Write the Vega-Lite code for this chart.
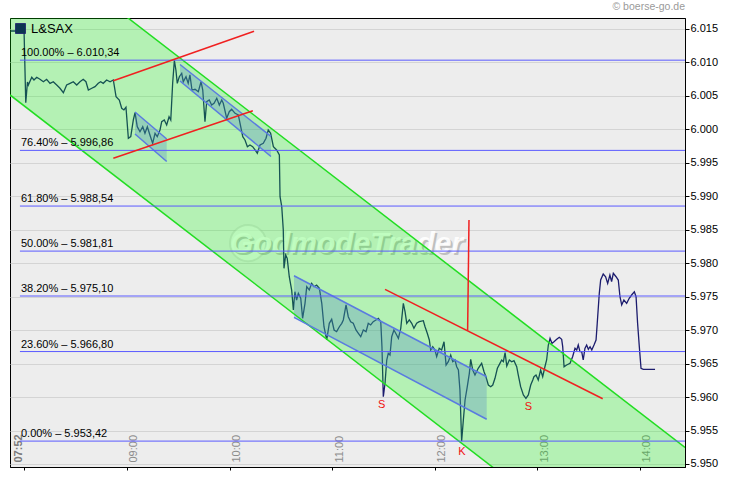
{
  "$schema": "https://vega.github.io/schema/vega-lite/v6.json",
  "width": 675,
  "height": 449,
  "autosize": {"type": "none"},
  "padding": {"left": 10, "top": 18, "right": 45, "bottom": 14},
  "background": "#FFFFFF",
  "title": {"text": "© boerse-go.de", "anchor": "end", "frame": "group", "fontSize": 10.5, "fontWeight": "normal", "color": "#9A9A9A", "offset": 6, "font": "Liberation Sans"},
  "config": {
    "locale": {"number": {"decimal": ",", "thousands": ".", "grouping": [3], "currency": ["", " €"]}},
    "view": {"fill": "#EDEDED", "stroke": "#000000", "strokeWidth": 1},
    "font": "Liberation Sans"
  },
  "datasets": {
    "price": [
      {"m":472.0,"v":6014.70},{"m":479.8,"v":6014.70},{"m":480.8,"v":6003.99},{"m":481.8,"v":6007.08},{"m":482.3,"v":6006.63},{"m":484.3,"v":6007.78},{"m":485.6,"v":6007.38},{"m":487.2,"v":6007.78},{"m":489.1,"v":6007.48},{"m":491.1,"v":6007.12},{"m":493.0,"v":6007.48},{"m":495.0,"v":6006.88},{"m":496.9,"v":6007.12},{"m":498.9,"v":6006.63},{"m":500.8,"v":6006.14},{"m":502.8,"v":6005.48},{"m":504.7,"v":6006.63},{"m":506.7,"v":6006.88},{"m":508.6,"v":6007.12},{"m":510.6,"v":6006.63},{"m":512.5,"v":6007.12},{"m":514.4,"v":6007.48},{"m":516.0,"v":6007.12},{"m":517.4,"v":6005.88},{"m":519.4,"v":6006.14},{"m":521.3,"v":6006.38},{"m":523.2,"v":6006.88},{"m":524.6,"v":6007.12},{"m":526.1,"v":6006.88},{"m":528.1,"v":6007.38},{"m":530.1,"v":6007.12},{"m":532.0,"v":6007.38},{"m":533.6,"v":6004.88},{"m":535.5,"v":6004.39},{"m":536.9,"v":6003.15},{"m":538.2,"v":6002.90},{"m":539.4,"v":6003.30},{"m":540.8,"v":5998.67},{"m":542.2,"v":5998.91},{"m":543.7,"v":6001.40},{"m":544.7,"v":6002.49},{"m":546.0,"v":6000.40},{"m":547.6,"v":5999.65},{"m":549.2,"v":6000.40},{"m":550.5,"v":5999.41},{"m":551.9,"v":6000.40},{"m":553.4,"v":5999.16},{"m":555.0,"v":5997.92},{"m":556.4,"v":5999.41},{"m":557.7,"v":5998.91},{"m":559.3,"v":5999.91},{"m":560.3,"v":6001.15},{"m":561.8,"v":6001.40},{"m":563.2,"v":6000.65},{"m":564.6,"v":6001.89},{"m":565.6,"v":6001.40},{"m":566.7,"v":6006.88},{"m":567.7,"v":6010.30},{"m":568.6,"v":6008.87},{"m":569.4,"v":6006.88},{"m":570.6,"v":6007.87},{"m":572.0,"v":6008.38},{"m":572.9,"v":6007.12},{"m":574.5,"v":6007.87},{"m":575.8,"v":6006.88},{"m":576.8,"v":6008.13},{"m":578.0,"v":6005.88},{"m":579.8,"v":6005.99},{"m":581.7,"v":6005.63},{"m":583.3,"v":6007.12},{"m":584.3,"v":6005.88},{"m":585.6,"v":6001.15},{"m":586.6,"v":6004.14},{"m":588.1,"v":6004.39},{"m":589.5,"v":6003.64},{"m":590.9,"v":6003.90},{"m":592.5,"v":6004.64},{"m":594.0,"v":6003.64},{"m":595.4,"v":6004.39},{"m":596.3,"v":6003.90},{"m":598.3,"v":6001.66},{"m":599.8,"v":6002.64},{"m":601.2,"v":6003.00},{"m":603.2,"v":6002.40},{"m":605.1,"v":6002.15},{"m":606.5,"v":6000.40},{"m":607.7,"v":5998.91},{"m":609.0,"v":5998.41},{"m":610.4,"v":5997.41},{"m":611.9,"v":5997.66},{"m":613.5,"v":5997.41},{"m":614.9,"v":5996.92},{"m":616.2,"v":5996.42},{"m":617.8,"v":5997.66},{"m":619.7,"v":5997.92},{"m":621.3,"v":5998.67},{"m":622.6,"v":5999.91},{"m":624.0,"v":5999.41},{"m":625.6,"v":5997.41},{"m":627.5,"v":5996.92},{"m":629.1,"v":5996.17},{"m":629.5,"v":5989.94},{"m":630.5,"v":5988.45},{"m":631.4,"v":5984.96},{"m":631.8,"v":5979.24},{"m":632.8,"v":5981.23},{"m":633.7,"v":5980.73},{"m":634.9,"v":5977.98},{"m":636.3,"v":5975.99},{"m":637.3,"v":5973.01},{"m":638.2,"v":5975.74},{"m":639.2,"v":5974.50},{"m":640.2,"v":5975.50},{"m":641.6,"v":5974.76},{"m":642.7,"v":5971.77},{"m":644.1,"v":5974.01},{"m":645.1,"v":5976.49},{"m":646.6,"v":5976.00},{"m":648.0,"v":5977.00},{"m":649.4,"v":5976.49},{"m":650.9,"v":5976.74},{"m":652.5,"v":5976.25},{"m":653.9,"v":5974.01},{"m":655.2,"v":5970.51},{"m":656.8,"v":5968.53},{"m":658.3,"v":5971.02},{"m":659.7,"v":5971.62},{"m":661.1,"v":5970.02},{"m":662.6,"v":5969.77},{"m":664.2,"v":5970.51},{"m":665.6,"v":5971.02},{"m":666.5,"v":5971.52},{"m":668.1,"v":5973.76},{"m":669.4,"v":5972.01},{"m":670.8,"v":5971.26},{"m":672.3,"v":5971.02},{"m":673.9,"v":5970.02},{"m":675.3,"v":5969.53},{"m":676.7,"v":5969.02},{"m":678.2,"v":5970.02},{"m":679.8,"v":5969.77},{"m":681.1,"v":5971.02},{"m":682.5,"v":5970.77},{"m":684.0,"v":5971.26},{"m":685.6,"v":5971.52},{"m":687.0,"v":5971.77},{"m":688.4,"v":5971.26},{"m":689.1,"v":5967.53},{"m":689.9,"v":5960.05},{"m":690.9,"v":5962.06},{"m":691.9,"v":5965.54},{"m":692.8,"v":5966.54},{"m":693.8,"v":5966.29},{"m":694.8,"v":5969.02},{"m":696.1,"v":5970.02},{"m":697.7,"v":5969.27},{"m":698.7,"v":5968.78},{"m":700.1,"v":5970.27},{"m":701.6,"v":5974.01},{"m":702.6,"v":5972.76},{"m":703.6,"v":5971.02},{"m":705.1,"v":5971.52},{"m":706.5,"v":5971.02},{"m":707.8,"v":5970.27},{"m":709.4,"v":5971.02},{"m":710.9,"v":5971.26},{"m":713.3,"v":5971.41},{"m":714.3,"v":5970.51},{"m":715.6,"v":5969.53},{"m":716.8,"v":5968.53},{"m":717.6,"v":5967.03},{"m":718.8,"v":5967.53},{"m":720.1,"v":5967.03},{"m":721.1,"v":5966.03},{"m":722.6,"v":5967.28},{"m":724.0,"v":5967.03},{"m":725.4,"v":5968.27},{"m":726.6,"v":5964.79},{"m":727.9,"v":5965.28},{"m":729.3,"v":5966.28},{"m":730.5,"v":5965.28},{"m":731.8,"v":5965.54},{"m":732.8,"v":5964.53},{"m":733.8,"v":5964.04},{"m":734.7,"v":5961.05},{"m":735.7,"v":5953.42},{"m":736.7,"v":5956.57},{"m":737.7,"v":5959.56},{"m":739.0,"v":5961.55},{"m":740.2,"v":5963.55},{"m":741.0,"v":5965.64},{"m":742.2,"v":5964.04},{"m":743.5,"v":5963.30},{"m":745.4,"v":5964.30},{"m":747.4,"v":5965.04},{"m":748.8,"v":5963.79},{"m":749.9,"v":5963.04},{"m":751.3,"v":5961.80},{"m":752.7,"v":5961.55},{"m":753.9,"v":5961.80},{"m":755.2,"v":5962.80},{"m":756.6,"v":5964.30},{"m":758.1,"v":5965.04},{"m":759.1,"v":5965.54},{"m":760.1,"v":5965.28},{"m":761.1,"v":5966.63},{"m":762.1,"v":5964.64},{"m":763.6,"v":5965.54},{"m":765.0,"v":5965.28},{"m":766.3,"v":5965.43},{"m":767.9,"v":5964.53},{"m":768.8,"v":5963.30},{"m":770.2,"v":5961.55},{"m":771.8,"v":5960.31},{"m":773.3,"v":5959.81},{"m":774.7,"v":5960.31},{"m":776.1,"v":5961.80},{"m":777.3,"v":5962.55},{"m":778.0,"v":5963.04},{"m":779.2,"v":5963.30},{"m":780.5,"v":5962.55},{"m":781.9,"v":5964.04},{"m":783.1,"v":5963.04},{"m":784.4,"v":5964.53},{"m":785.4,"v":5965.54},{"m":786.4,"v":5967.78},{"m":787.4,"v":5968.78},{"m":788.5,"v":5968.03},{"m":789.7,"v":5968.27},{"m":791.3,"v":5968.63},{"m":792.8,"v":5968.93},{"m":794.2,"v":5968.63},{"m":794.8,"v":5967.53},{"m":795.6,"v":5964.53},{"m":797.1,"v":5964.79},{"m":799.1,"v":5965.04},{"m":800.6,"v":5966.03},{"m":802.0,"v":5967.28},{"m":803.0,"v":5967.03},{"m":803.9,"v":5967.78},{"m":804.9,"v":5966.78},{"m":805.9,"v":5966.78},{"m":806.8,"v":5965.54},{"m":807.8,"v":5967.28},{"m":808.8,"v":5967.78},{"m":809.8,"v":5967.14},{"m":810.8,"v":5967.53},{"m":811.8,"v":5967.03},{"m":813.1,"v":5967.78},{"m":814.3,"v":5968.53},{"m":815.0,"v":5971.02},{"m":816.2,"v":5975.50},{"m":817.0,"v":5977.49},{"m":818.5,"v":5978.39},{"m":819.9,"v":5977.98},{"m":821.1,"v":5976.99},{"m":822.4,"v":5978.24},{"m":823.4,"v":5977.24},{"m":824.4,"v":5978.49},{"m":826.0,"v":5977.98},{"m":827.3,"v":5977.49},{"m":828.3,"v":5974.99},{"m":829.3,"v":5973.76},{"m":830.6,"v":5974.50},{"m":832.2,"v":5974.01},{"m":833.7,"v":5974.76},{"m":835.1,"v":5975.25},{"m":836.7,"v":5975.74},{"m":837.7,"v":5974.99},{"m":838.6,"v":5971.02},{"m":839.6,"v":5967.53},{"m":840.6,"v":5964.30},{"m":841.9,"v":5964.15},{"m":848.8,"v":5964.15}
    ],
    "channel": [
      {"m": 471.58, "v": 6030.24, "v2": 6005.14},
      {"m": 866.32, "v": 5952.48, "v2": 5927.36}
    ],
    "channelEdges": [
      {"edge": "upper", "m": 471.58, "v": 6030.24},
      {"edge": "upper", "m": 866.32, "v": 5952.48},
      {"edge": "lower", "m": 471.58, "v": 6005.14},
      {"edge": "lower", "m": 866.32, "v": 5927.36}
    ],
    "boxes": [
      {"box": 1, "m": 544.68, "v": 6002.60, "v2": 5999.31},
      {"box": 1, "m": 563.22, "v": 5998.56, "v2": 5995.20},
      {"box": 2, "m": 570.99, "v": 6009.69, "v2": 6007.23},
      {"box": 2, "m": 624.20, "v": 5998.94, "v2": 5995.95},
      {"box": 3, "m": 637.66, "v": 5978.13, "v2": 5971.92},
      {"box": 3, "m": 750.35, "v": 5963.04, "v2": 5956.68}
    ],
    "boxEdges": [
      {"edge": "1u", "m": 544.68, "v": 6002.60},
      {"edge": "1u", "m": 563.22, "v": 5998.56},
      {"edge": "1l", "m": 544.68, "v": 5999.31},
      {"edge": "1l", "m": 563.22, "v": 5995.20},
      {"edge": "2u", "m": 570.99, "v": 6009.69},
      {"edge": "2u", "m": 624.20, "v": 5998.94},
      {"edge": "2l", "m": 570.99, "v": 6007.23},
      {"edge": "2l", "m": 624.20, "v": 5995.95},
      {"edge": "3u", "m": 637.66, "v": 5978.13},
      {"edge": "3u", "m": 750.35, "v": 5963.04},
      {"edge": "3l", "m": 637.66, "v": 5971.92},
      {"edge": "3l", "m": 750.35, "v": 5956.68}
    ],
    "red": [
      {"id": "r1", "m": 532.0, "v": 6007.27},
      {"id": "r1", "m": 614.3, "v": 6014.66},
      {"id": "r2", "m": 532.0, "v": 5995.68},
      {"id": "r2", "m": 613.6, "v": 6002.79},
      {"id": "r3", "m": 690.9, "v": 5976.10},
      {"id": "r3", "m": 818.2, "v": 5959.75},
      {"id": "r4", "m": 739.2, "v": 5969.95},
      {"id": "r4", "m": 740.0, "v": 5986.46}
    ],
    "fib": [
      {"m": 477.4, "m2": 866.32, "v": 6010.34, "label": "100.00% – 6.010,34"},
      {"m": 477.4, "m2": 866.32, "v": 5996.86, "label": "76.40% – 5.996,86"},
      {"m": 477.4, "m2": 866.32, "v": 5988.54, "label": "61.80% – 5.988,54"},
      {"m": 477.4, "m2": 866.32, "v": 5981.81, "label": "50.00% – 5.981,81"},
      {"m": 477.4, "m2": 866.32, "v": 5975.10, "label": "38.20% – 5.975,10"},
      {"m": 477.4, "m2": 866.32, "v": 5966.80, "label": "23.60% – 5.966,80"},
      {"m": 477.4, "m2": 866.32, "v": 5953.42, "label": "0.00% – 5.953,42"}
    ],
    "letters": [
      {"m": 688.95, "v": 5958.81, "t": "S"},
      {"m": 735.9, "v": 5951.79, "t": "K"},
      {"m": 774.68, "v": 5958.56, "t": "S"}
    ],
    "wm": [
      {"m": 668.5, "v": 5982.9, "t": "GodmodeTrader"}
    ],
    "logo": [
      {"m": 610.8, "v": 5983.0}
    ]
  },
  "encoding": {
    "x": {
      "field": "m", "type": "quantitative",
      "scale": {"domain": [471.58, 866.32], "nice": false, "zero": false},
      "axis": {
        "orient": "bottom", "title": null, "grid": false,
        "values": [480, 540, 600, 660, 720, 780, 840],
        "labelExpr": "datum.value == 480 ? '07:52' : ((floor(datum.value/60) < 10 ? '0' : '') + floor(datum.value/60) + ':00')",
        "labelAngle": 270, "labelAlign": "left", "labelBaseline": "top",
        "labelPadding": -8, "tickSize": 3, "tickColor": "#000000", "domainColor": "#000000",
        "labelFontSize": 11, "labelFont": "Liberation Sans",
        "labelColor": {"condition": {"test": "datum.value == 480", "value": "#7A7A7A"}, "value": "#8C8C8C"},
        "labelFontWeight": {"condition": {"test": "datum.value == 480", "value": "bold"}, "value": "normal"},
        "labelOffset": {"condition": {"test": "datum.value == 480", "value": -12}, "value": 1},
        "labelFlush": false, "labelOverlap": false, "labelBound": false
      }
    },
    "y": {
      "field": "v", "type": "quantitative", "stack": null,
      "scale": {"domain": [5949.55, 6016.64], "nice": false, "zero": false},
      "axis": {
        "orient": "right", "title": null, "grid": true, "gridColor": "#D4D4D4",
        "values": [5950, 5955, 5960, 5965, 5970, 5975, 5980, 5985, 5990, 5995, 6000, 6005, 6010, 6015],
        "format": ",.0f", "tickSize": 4, "tickColor": "#000000", "domainColor": "#000000",
        "labelColor": "#000000", "labelFontSize": 11, "labelFont": "Liberation Sans", "labelPadding": 1,
        "labelFlush": false, "labelOverlap": false
      }
    }
  },
  "layer": [
    {
      "data": {"name": "logo"},
      "mark": {"type": "point", "filled": true, "size": 1300, "color": "#FFFFFF", "opacity": 0.55, "stroke": "#BDBDBD", "strokeWidth": 2, "strokeOpacity": 0.6}
    },
    {
      "data": {"name": "wm"},
      "mark": {"type": "text", "font": "Liberation Sans", "fontSize": 30, "fontWeight": "bold", "fontStyle": "italic", "color": "#9A9A9A", "opacity": 0.55, "dx": 2, "dy": 2, "align": "center", "baseline": "middle"},
      "encoding": {"text": {"field": "t"}}
    },
    {
      "data": {"name": "wm"},
      "mark": {"type": "text", "font": "Liberation Sans", "fontSize": 30, "fontWeight": "bold", "fontStyle": "italic", "color": "#FFFFFF", "opacity": 0.9, "align": "center", "baseline": "middle"},
      "encoding": {"text": {"field": "t"}}
    },
    {
      "data": {"name": "price"},
      "mark": {"type": "line", "strokeWidth": 1.3, "clip": true},
      "encoding": {
        "color": {
          "datum": "L&SAX", "type": "nominal",
          "scale": {"range": ["#1C1C6E"]},
          "legend": {
            "title": null, "orient": "top-left", "offset": 4, "padding": 0,
            "symbolType": "square", "symbolSize": 100, "labelFontSize": 13, "labelFont": "Liberation Sans",
            "labelColor": "#000000", "labelOffset": 4,
            "encode": {"symbols": {"update": {"fill": {"value": "#0B3550"}, "stroke": {"value": "#000000"}, "strokeWidth": {"value": 0.8}, "opacity": {"value": 1}, "shape": {"value": "square"}, "size": {"value": 100}}}}
          }
        }
      }
    },
    {
      "data": {"name": "channel"},
      "mark": {"type": "area", "color": "#00FF00", "opacity": 0.24, "clip": true},
      "encoding": {"y2": {"field": "v2"}}
    },
    {
      "data": {"name": "boxes"},
      "mark": {"type": "area", "color": "#4F86C6", "opacity": 0.3, "clip": true},
      "encoding": {"detail": {"field": "box"}, "y2": {"field": "v2"}}
    },
    {
      "data": {"name": "channelEdges"},
      "mark": {"type": "line", "color": "#22DD22", "strokeWidth": 1.5, "clip": true},
      "encoding": {"detail": {"field": "edge"}}
    },
    {
      "data": {"name": "boxEdges"},
      "mark": {"type": "line", "color": "#5A7BE0", "strokeWidth": 1.5, "clip": true},
      "encoding": {"detail": {"field": "edge"}}
    },
    {
      "data": {"name": "fib"},
      "mark": {"type": "rule", "color": "#5A5AFF", "strokeWidth": 1},
      "encoding": {"x2": {"field": "m2"}}
    },
    {
      "data": {"name": "fib"},
      "mark": {"type": "text", "align": "left", "baseline": "alphabetic", "dx": 1, "dy": -4, "fontSize": 11, "font": "Liberation Sans", "color": "#000000"},
      "encoding": {"text": {"field": "label"}}
    },
    {
      "data": {"name": "red"},
      "mark": {"type": "line", "color": "#F02020", "strokeWidth": 1.5, "clip": true},
      "encoding": {"detail": {"field": "id"}}
    },
    {
      "data": {"name": "letters"},
      "mark": {"type": "text", "color": "#F01010", "fontSize": 11, "font": "Liberation Sans", "align": "center", "baseline": "middle"},
      "encoding": {"text": {"field": "t"}}
    }
  ]
}
